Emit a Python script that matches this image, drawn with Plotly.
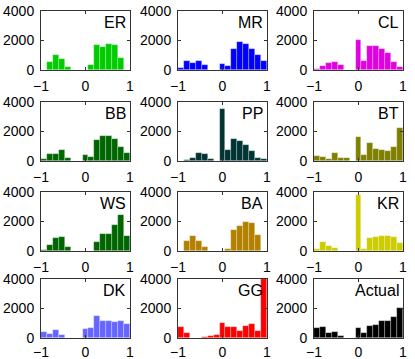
import numpy as np
import plotly.graph_objects as go

# 15 histogram bins spanning -1..1
bin_edges = np.linspace(-1, 1, 16)
bin_centers = (bin_edges[:-1] + bin_edges[1:]) / 2

labels = ["ER", "MR", "CL", "BB", "PP", "BT", "WS", "BA", "KR", "DK", "GG", "Actual"]

er = [0, 550, 1000, 730, 200, 0, 0, 0, 360, 1710, 1560, 1730, 1670, 780, 0]
mr = [140, 590, 490, 630, 370, 0, 0, 420, 260, 1400, 1900, 1750, 1400, 1000, 630]
cl = [100, 260, 490, 560, 370, 0, 0, 2010, 600, 1610, 1610, 1430, 1120, 540, 210]
bb = [140, 490, 490, 720, 230, 0, 0, 420, 280, 1430, 1690, 1710, 1460, 920, 530]
pp = [0, 90, 210, 530, 490, 140, 0, 3510, 760, 1500, 1340, 1090, 670, 230, 160]
bt = [370, 280, 140, 510, 230, 230, 0, 1600, 420, 1250, 810, 740, 670, 920, 2240]
ws = [70, 440, 860, 940, 300, 0, 0, 0, 0, 630, 1120, 1120, 1780, 2430, 1000]
ba = [0, 680, 1000, 680, 260, 0, 0, 0, 150, 1430, 1680, 1960, 1870, 1080, 0]
kr = [160, 580, 330, 210, 0, 0, 0, 3810, 160, 890, 940, 1050, 1050, 980, 560]
dk = [440, 250, 530, 230, 0, 0, 0, 620, 690, 1460, 1180, 1180, 1110, 1180, 920]
gg = [740, 350, 20, 20, 60, 120, 200, 1050, 750, 750, 500, 800, 950, 450, 4000]
actual = [670, 720, 320, 390, 120, 20, 20, 650, 370, 790, 900, 1180, 1180, 1410, 2010]

series = [er, mr, cl, bb, pp, bt, ws, ba, kr, dk, gg, actual]
colors = ["#00cc00", "#0000ff", "#e000e0", "#006600", "#003333", "#808000",
          "#006600", "#b38000", "#cccc00", "#6666ff", "#ff0000", "#000000"]

W, H = 415, 359
col_left = [41, 178, 314]
ax_w = 89
row_top = [11, 102, 192, 279]
ax_h = 59

fig = go.Figure()
font = dict(family="Liberation Sans, Arial, sans-serif", size=14, color="black")

for i, (name, vals, col) in enumerate(zip(labels, series, colors)):
    r, c = divmod(i, 3)
    n = i + 1
    xa = "x" if n == 1 else "x%d" % n
    ya = "y" if n == 1 else "y%d" % n
    fig.add_trace(go.Bar(
        x=bin_centers, y=vals, width=2 / 15,
        marker=dict(color=col, line=dict(color="rgba(255,255,255,0.45)", width=0.6)),
        xaxis=xa, yaxis=ya, showlegend=False, hoverinfo="skip",
    ))
    x0 = col_left[c] / W
    x1 = (col_left[c] + ax_w) / W
    y1 = 1 - row_top[r] / H
    y0 = 1 - (row_top[r] + ax_h) / H
    axis_style = dict(showline=True, linecolor="#333333", linewidth=1, mirror="ticks",
                      ticks="inside", ticklen=3, tickcolor="#333333", automargin=False,
                      showgrid=False, zeroline=False, tickfont=font, fixedrange=True)
    # bottom row sits right at the page edge, so pull its labels up a little
    fig.layout["xaxis" if n == 1 else "xaxis%d" % n] = dict(
        domain=[x0, x1], range=[-1, 1], tickvals=[-1, 0, 1], anchor=ya,
        ticklabelstandoff=1 if r == 3 else 3, **axis_style)
    fig.layout["yaxis" if n == 1 else "yaxis%d" % n] = dict(
        domain=[y0, y1], range=[0, 4000], tickvals=[0, 2000, 4000], anchor=xa,
        ticklabelstandoff=3, **axis_style)
    fig.add_annotation(text=name, xref=xa + " domain", yref=ya + " domain",
                       x=0.98, y=0.99, xanchor="right", yanchor="top", showarrow=False,
                       font=dict(family="Liberation Sans, Arial, sans-serif", size=16, color="black"))

fig.update_layout(width=W, height=H, margin=dict(l=0, r=0, t=0, b=0),
                  plot_bgcolor="white", paper_bgcolor="white", bargap=0)

# drop the default page margin so the figure fills the window
fig.write_html("out.html", config={"displayModeBar": False},
               post_script="document.body.style.margin='0';")
